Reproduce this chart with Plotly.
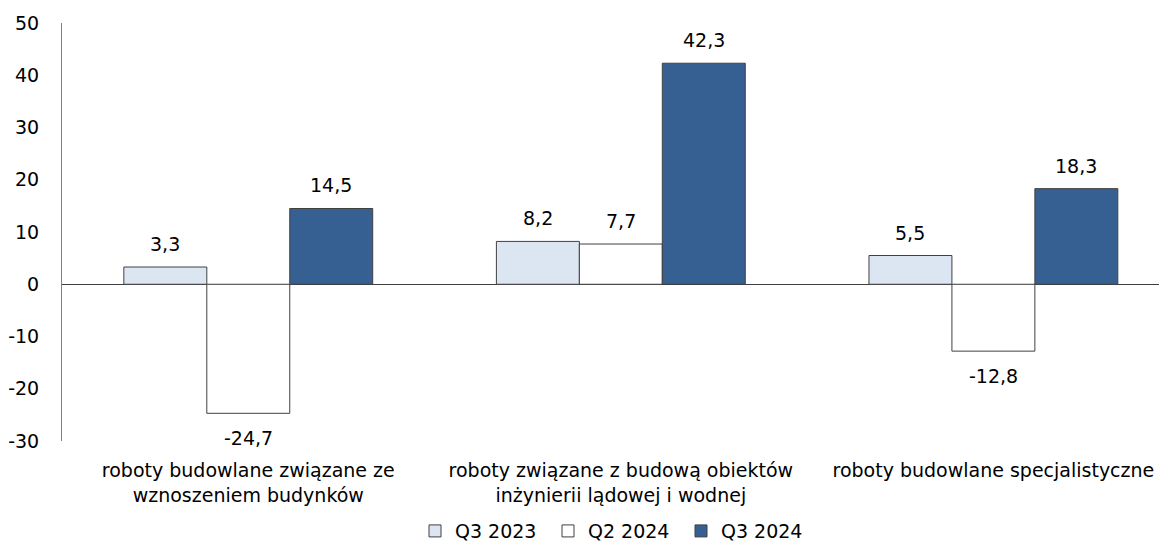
import plotly.graph_objects as go

categories = ["roboty budowlane związane ze<br>wznoszeniem budynków",
              "roboty związane z budową obiektów<br>inżynierii lądowej i wodnej",
              "roboty budowlane specjalistyczne"]
series_names = ["Q3 2023", "Q2 2024", "Q3 2024"]
q3_2023 = [3.3, 8.2, 5.5]
q2_2024 = [-24.7, 7.7, -12.8]
q3_2024 = [14.5, 42.3, 18.3]
y_ticks = [-30, -20, -10, 0, 10, 20, 30, 40, 50]

colors = ["#DCE6F2", "#FFFFFF", "#376092"]
FONT = "DejaVu Sans"
FS = 19
BARGAP = 0.332


def fmt(v):
    return f"{v:.1f}".replace(".", ",")


fig = go.Figure()
all_series = [q3_2023, q2_2024, q3_2024]
n = len(all_series)
bar_w = (1 - BARGAP) / n
for k, (name, vals, col) in enumerate(zip(series_names, all_series, colors)):
    fig.add_trace(go.Bar(
        x=list(range(len(categories))), y=vals, name=name,
        marker=dict(color=col, line=dict(color="#404040", width=1)),
    ))
    for i, v in enumerate(vals):
        fig.add_annotation(
            x=i + (k - (n - 1) / 2) * bar_w, y=v, xref="x", yref="y",
            text=fmt(v), showarrow=False,
            yanchor="bottom" if v >= 0 else "top",
            yshift=10 if v >= 0 else -12,
            font=dict(family=FONT, size=FS, color="#000000"),
        )

fig.update_layout(
    width=1159, height=536,
    margin=dict(l=54, r=0, t=15, b=103, autoexpand=False),
    paper_bgcolor="white", plot_bgcolor="white",
    barmode="group", bargap=BARGAP, bargroupgap=0,
    font=dict(family=FONT, size=FS, color="#000000"),
    showlegend=True,
    legend=dict(orientation="h", x=0.5, xanchor="center", y=-0.17, yanchor="top",
                font=dict(family=FONT, size=FS), traceorder="normal",
                entrywidth=88, itemwidth=30),
    xaxis=dict(
        tickmode="array", tickvals=list(range(len(categories))), ticktext=categories,
        range=[-0.5, 2.466], showline=False, showgrid=False, zeroline=False,
        ticks="", ticklabelstandoff=16, automargin=False,
        tickfont=dict(family=FONT, size=FS),
    ),
    yaxis=dict(
        range=[-30, 50], tickvals=y_ticks, ticktext=[str(t) for t in y_ticks],
        showgrid=False,
        showline=True, linecolor="#808080", linewidth=1,
        zeroline=True, zerolinecolor="#404040", zerolinewidth=1,
        ticks="", ticklabelstandoff=18, automargin=False,
        tickfont=dict(family=FONT, size=FS),
    ),
)

fig.write_html("out.html")
